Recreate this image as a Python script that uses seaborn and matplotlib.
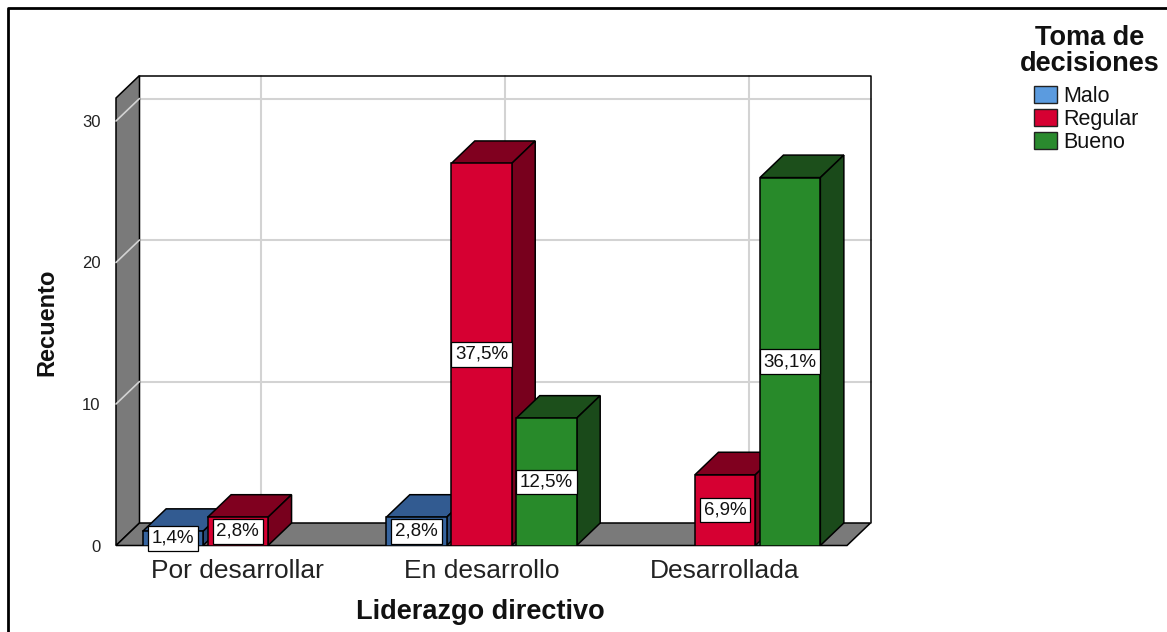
import numpy as np
import pandas as pd
import matplotlib
matplotlib.use("Agg")
import matplotlib.pyplot as plt
import seaborn as sns
from matplotlib.patches import Polygon, Patch
from matplotlib.lines import Line2D

# ---------------- data ----------------
categories = ["Por desarrollar", "En desarrollo", "Desarrollada"]
levels = ["Malo", "Regular", "Bueno"]
malo = [1, 2, 0]
regular = [2, 27, 5]
bueno = [0, 9, 26]
y_ticks = [0, 10, 20, 30]
x_title = "Liderazgo directivo"
y_title = "Recuento"
legend_title = "Toma de\ndecisiones"

# ---------------- style ----------------
sns.set_style("white")
plt.rcParams["font.family"] = ["Liberation Sans", "DejaVu Sans"]

front_colors = {"Malo": "#36649f", "Regular": "#d60032", "Bueno": "#288a2a"}
top_colors = {"Malo": "#325b91", "Regular": "#80001f", "Bueno": "#1c4f1b"}
side_colors = {"Malo": "#284a78", "Regular": "#78001d", "Bueno": "#1a4a1a"}
legend_colors = {"Malo": "#5b9bdf", "Regular": "#d60032", "Bueno": "#2a8a2e"}
wall_gray = "#7a7a7a"
grid_gray = "#d3d3d3"
text_color = "#111111"

df = pd.DataFrame({
    "cat": categories * 3,
    "level": [lv for lv in levels for _ in categories],
    "count": malo + regular + bueno,
})
total = df["count"].sum()

W, H, DPI = 1167, 632, 100
fig = plt.figure(figsize=(W / DPI, H / DPI), dpi=DPI)

# front plane of the pseudo-3D chart
x_left, x_right, y_zero, y_top_px = 116, 847, 545.5, 98
ax = fig.add_axes([x_left / W, (H - y_zero) / H, (x_right - x_left) / W, (y_zero - y_top_px) / H])

sns.barplot(data=df, x="cat", y="count", hue="level", order=categories, hue_order=levels,
            palette=front_colors, saturation=1, width=0.8, gap=0.07, edgecolor="black",
            linewidth=1.1, errorbar=None, legend=False, ax=ax)

px_per_unit = (545.5 - 121) / 30.0
ytop = (y_zero - y_top_px) / px_per_unit
ax.set_xlim(-0.5, len(categories) - 0.5)
ax.set_ylim(0, ytop)

# depth offsets converted into data units
DX, DY = 23.5, 22.5
p0 = ax.transData.transform((0, 0))
p1 = ax.transData.transform((1, 1))
ddx = DX / (p1[0] - p0[0])
ddy = DY / (p1[1] - p0[1])
xl, xr = -0.5, len(categories) - 0.5

def poly(pts, fc, ec="black", lw=1.1, z=1):
    ax.add_patch(Polygon(pts, closed=True, facecolor=fc, edgecolor=ec, linewidth=lw,
                         zorder=z, clip_on=False, joinstyle="miter"))

def line(xs, ys, color, lw, z):
    ax.add_line(Line2D(xs, ys, color=color, linewidth=lw, zorder=z, clip_on=False))

# back wall grid
for yv in y_ticks[1:]:
    line([xl + ddx, xr + ddx], [yv + ddy, yv + ddy], grid_gray, 1.5, 0.5)
for i in range(len(categories)):
    line([i + ddx, i + ddx], [ddy, ytop + ddy], grid_gray, 1.5, 0.5)
# back wall border (top and right)
line([xl + ddx, xr + ddx, xr + ddx], [ytop + ddy, ytop + ddy, ddy], "black", 1.1, 0.6)
# left wall
poly([(xl, 0), (xl, ytop), (xl + ddx, ytop + ddy), (xl + ddx, ddy)], wall_gray, z=1)
for yv in y_ticks[1:]:
    line([xl, xl + ddx], [yv, yv + ddy], grid_gray, 1.2, 1.2)
# floor
poly([(xl, 0), (xr, 0), (xr + ddx, ddy), (xl + ddx, ddy)], wall_gray, z=1.5)

# 3D faces on the seaborn bars
for i, cont in enumerate(ax.containers):
    lv = levels[i]
    for bar in cont:
        x0, w, h = bar.get_x(), bar.get_width(), bar.get_height()
        if h <= 0:
            bar.set_visible(False)
            continue
        bar.set_zorder(4 + 2 * i)
        poly([(x0, h), (x0 + w, h), (x0 + w + ddx, h + ddy), (x0 + ddx, h + ddy)],
             top_colors[lv], z=3 + 2 * i)
        poly([(x0 + w, 0), (x0 + w, h), (x0 + w + ddx, h + ddy), (x0 + w + ddx, ddy)],
             side_colors[lv], z=3 + 2 * i)
        pct = f"{h / total * 100:.1f}".replace(".", ",") + "%"
        ax.text(x0 + w / 2, h / 2, pct, ha="center", va="center", fontsize=13.5,
                color=text_color, zorder=20,
                bbox=dict(boxstyle="square,pad=0.2", fc="white", ec="black", lw=0.9))

# axes cosmetics
for s in ax.spines.values():
    s.set_visible(False)
ax.grid(False)
ax.set_yticks(y_ticks)
ax.set_yticklabels([str(t) for t in y_ticks], fontsize=12, color="#222222")
ax.tick_params(axis="y", length=0, pad=11)
ax.tick_params(axis="x", length=0, pad=10, labelsize=19, labelcolor="#222222")
ax.set_xlabel("")
ax.set_ylabel("")
ax.patch.set_visible(False)

fig.text(47 / W, 1 - 322 / H, y_title, rotation=90, ha="center", va="center",
         fontsize=17, fontweight="bold", color=text_color)
fig.text(480 / W, 1 - 612 / H, x_title, ha="center", va="center",
         fontsize=19.5, fontweight="bold", color=text_color)

# legend title and entries
fig.text(1090 / W, 1 - 51 / H, legend_title, ha="center", va="center", multialignment="center",
         fontsize=19.5, fontweight="bold", linespacing=1.0, color=text_color)
handles = [Patch(facecolor=legend_colors[lv], edgecolor="#222222", linewidth=1.0) for lv in levels]
leg = fig.legend(handles, levels, loc="upper left",
                 bbox_to_anchor=(1034 / W, 1 - 86 / H), frameon=False,
                 prop={"size": 15.5}, handlelength=1.05, handleheight=0.85, handletextpad=0.3,
                 labelspacing=0.08, borderpad=0.0, borderaxespad=0.0)
for t in leg.get_texts():
    t.set_color(text_color)

# outer frame (left and top)
fig.add_artist(Line2D([8 / W, 8 / W, 1.0], [0, 1 - 8 / H, 1 - 8 / H], color="black",
                      linewidth=2, transform=fig.transFigure))

fig.savefig("out.png", dpi=DPI)
